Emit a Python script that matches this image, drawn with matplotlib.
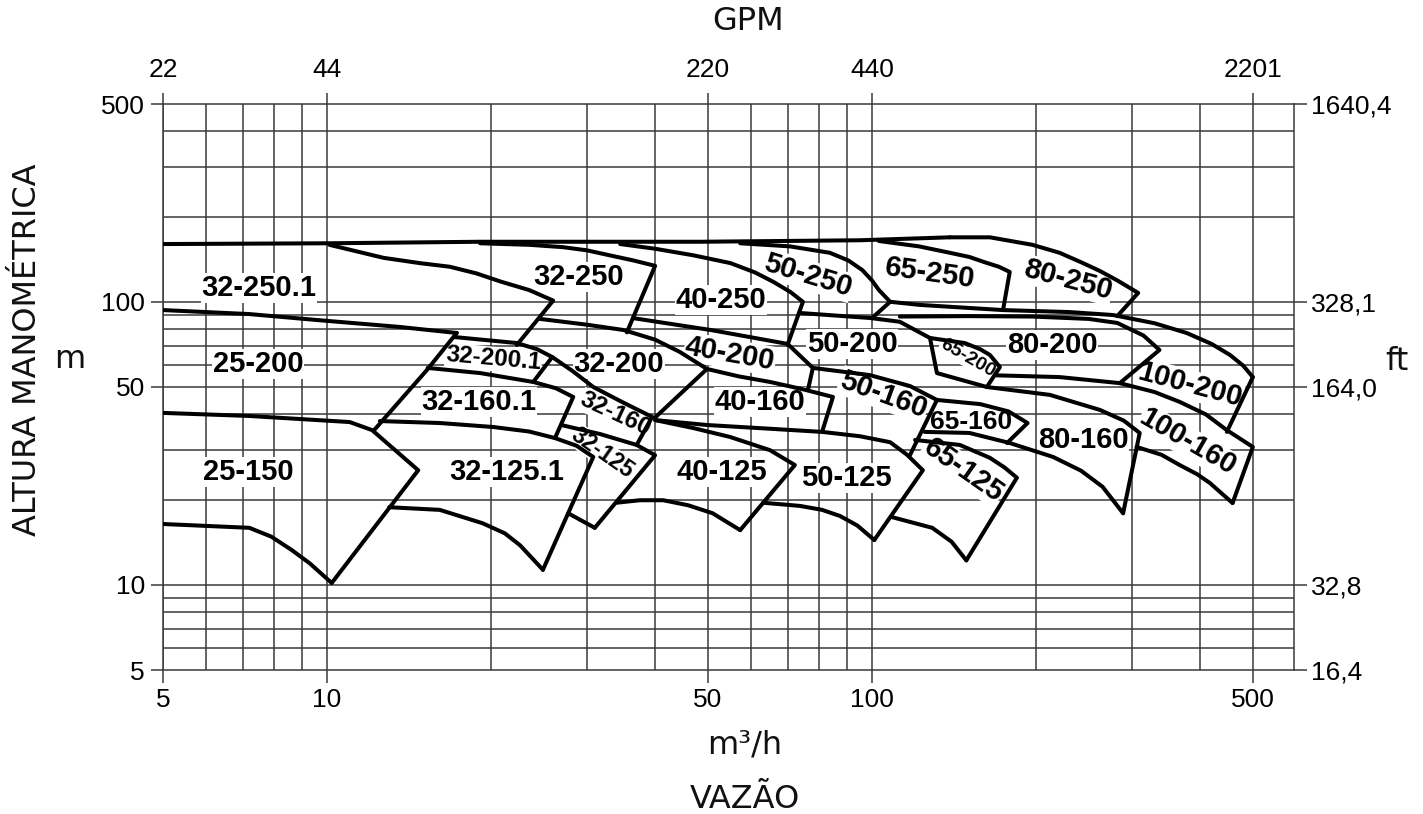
import matplotlib
matplotlib.use('Agg')
import matplotlib.pyplot as plt
from matplotlib.ticker import NullLocator

# outlines of the pump tiles, (flow m3/h, head m)
env_top = [(5, 160), (10.1, 161), (19.1, 163), (48.4, 163), (95, 165), (139, 169)]
top_80_250 = [(139, 169), (164.6, 169), (197, 159), (221, 149), (244, 137), (262, 128.5),
              (282, 119), (308, 107.5), (282, 89)]
top_32_250_1 = [(10.1, 159), (12.7, 143), (14.8, 137), (16.8, 133), (18.8, 126), (20.8, 118),
                (23.5, 110), (26, 101), (22.3, 70.4)]
top_32_250 = [(19.1, 161), (23.5, 159), (27.1, 156), (30, 152), (33, 146), (36.5, 140), (40, 134), (35.5, 78)]
top_40_250 = [(34.5, 160), (40, 154), (47, 146), (55, 137), (61, 127), (66, 117.5), (71, 108),
              (74.7, 100), (70, 70.4)]
top_50_250 = [(57.3, 161), (70.7, 157), (83.7, 149), (90.5, 140), (96, 129.5), (100, 119),
              (103, 110), (108, 100), (100, 87.6)]
top_65_250 = [(103, 164), (122, 157), (139, 149), (151, 144), (161, 138), (171, 133), (179, 127.5), (174, 93.5)]
bottom_80_250 = [(108, 100), (122.5, 97.5), (174, 93.5), (230, 92), (277, 89.8), (330, 84),
                 (378, 77.6), (420, 71), (454, 64.9), (480, 59.5), (500, 54.2)]
bottom_40_250 = [(36.4, 87.6), (50.6, 79.5), (70, 71), (77.9, 58.4), (76.3, 48.8)]

top_25_200 = [(5, 93.5), (7.2, 90.5), (9.6, 86.2), (13.6, 81.5), (17.3, 77.6)]
right_25_200 = [(17.3, 77.6), (15.25, 57.4), (12.2, 35.2)]
top_32_200_1 = [(17.1, 75.1), (22.3, 71.5), (24.3, 68), (25.9, 63.8), (23.9, 52.1)]
top_32_200 = [(24.6, 87), (30, 83), (35, 79.5), (40, 73.5), (44.4, 66.5), (49.8, 57.9), (57, 54.5),
              (65, 52.1), (75, 49), (84.8, 46.1), (81, 34.7)]
right_32_200 = [(49.8, 57.9), (40, 39)]
top_50_200 = [(73.8, 91.3), (99.6, 87.6), (112.5, 85), (127.8, 74.5), (148, 71.5), (158, 68),
              (164.6, 64.9), (171.7, 58.8), (162.5, 50)]
left_65_200 = [(127.8, 74.5), (131.6, 56), (162.5, 50)]
top_80_200 = [(112.5, 88.7), (150, 89), (197, 88.7), (250, 87), (282, 84.2), (315, 76), (337, 67.6), (285, 51.6)]
bottom_80_200 = [(168, 55), (221, 54.2), (285, 51.6)]
right_100_200 = [(500, 54.2), (448, 34.7)]

top_32_160_1 = [(15.3, 58.4), (19.1, 56.0), (23.9, 52.1), (26.3, 49.5), (28.3, 46.1), (26.2, 33.0)]
top_32_160 = [(25.9, 63.8), (28.2, 57), (30.8, 50), (35, 44), (39.5, 39.2), (37, 31.2)]
top_50_160 = [(77.9, 58.4), (99, 55.1), (117.4, 50.4), (131.6, 45), (117.4, 28.7)]
top_65_160 = [(131.6, 45), (158, 43.5), (178, 41), (193, 37.3), (177, 31.7)]
top_80_160 = [(162.5, 50), (212, 46.9), (262, 41.5), (290, 38), (310, 34.4), (289, 17.9)]
bottom_80_160 = [(125, 34.7), (151, 34.4), (179, 31.7), (215, 28.3), (242, 25.3), (265, 22.2), (289, 17.9)]
top_100_160 = [(285, 51.6), (330, 48), (367, 44.3), (410, 40), (448, 35.2), (500, 30.7), (459, 19.45)]
bottom_100_160 = [(306, 30.7), (340, 28.8), (367, 26.5), (395, 24.6), (417, 22.9), (459, 19.45)]

top_25_150 = [(5, 40.5), (7.2, 39.5), (11, 37.6), (12.1, 35.2), (14.7, 25.4), (10.2, 10.15)]
bottom_25_150 = [(5, 16.4), (7.2, 15.9), (7.9, 14.8), (8.6, 13.3), (9.3, 11.9), (10.2, 10.15)]
top_32_125_1 = [(12.5, 37.9), (16.1, 37.3), (20.2, 36.1), (23.5, 34.8), (26.2, 33.0), (28.7, 31),
                (30.8, 28.3), (24.9, 11.3)]
bottom_32_125_1 = [(13, 18.8), (16.1, 18.4), (19.3, 16.5), (21.2, 15.2), (22.6, 13.8), (24.9, 11.3)]
top_32_125 = [(26.9, 36.7), (31.7, 34.1), (37, 31.2), (40, 28.7), (31, 15.9)]
bottom_32_125 = [(27.7, 17.9), (31, 15.9)]
top_40_125 = [(40, 38.2), (47, 35.8), (54.9, 33.3), (65, 29.9), (72.2, 26.5), (57.3, 15.6)]
bottom_40_125 = [(34, 19.5), (37.5, 19.9), (41.4, 19.9), (46, 19.1), (51, 17.9), (57.3, 15.6)]
top_50_125 = [(40, 38.2), (49.8, 36.7), (65, 35.6), (81, 34.7), (95, 33.5), (108, 31.9), (116, 28.8),
              (124, 25.4), (101, 14.4)]
bottom_50_125 = [(63.1, 19.5), (73.8, 19.0), (81, 18.4), (87.4, 17.5), (94, 16.2), (101, 14.4)]
top_65_125 = [(120, 32.5), (145, 31.2), (164.6, 28.1), (175, 26), (184.5, 23.9), (149, 12.2)]
bottom_65_125 = [(108.8, 17.35), (129, 15.9), (140, 14.2), (149, 12.2)]

# model labels: name, flow, head, rotation, size
label_names = ['32-250.1', '32-250', '40-250', '50-250', '65-250', '80-250',
               '25-200', '32-200.1', '32-200', '40-200', '50-200', '65-200', '80-200', '100-200',
               '32-160.1', '32-160', '40-160', '50-160', '65-160', '80-160', '100-160',
               '25-150', '32-125.1', '32-125', '40-125', '50-125', '65-125']
label_q = [7.5, 28.9, 52.8, 76.3, 128, 229,
           7.47, 20.2, 34.3, 54.9, 91.9, 150, 214, 383,
           19.0, 33.8, 62.3, 105, 152, 244, 380,
           7.16, 21.4, 32.0, 53.0, 89.6, 147]
label_h = [112, 122, 101.5, 124, 126.4, 119.4,
           60.3, 62.8, 60.3, 65.4, 71, 63.3, 70.4, 50.8,
           44.3, 40.1, 44.3, 46.9, 37.6, 32.5, 31.9,
           25.0, 25.0, 29.2, 25.0, 23.9, 25.4]
label_rot = [0, 0, 0, -17, -8, -15,
             0, -5, 0, -10, 0, -30, 0, -15,
             0, -25, 0, -20, 0, 0, -30,
             0, 0, -35, 0, 0, -35]
label_size = [21, 21, 21, 21, 21, 21,
              21, 17.5, 21, 21, 21, 14, 21, 21,
              21, 17.5, 21, 21, 19, 21, 21,
              21, 21, 16.5, 21, 21, 21]

m_ticks = [5, 10, 50, 100, 500]
ft_labels = ['16,4', '32,8', '164,0', '328,1', '1640,4']
gpm_labels = ['22', '44', '220', '440', '2201']
x_grid = [5, 6, 7, 8, 9, 10, 20, 30, 40, 50, 60, 70, 80, 90, 100, 200, 300, 400, 500]
y_grid = [6, 7, 8, 9, 10, 20, 30, 40, 50, 60, 70, 80, 90, 100, 200, 300, 400]

outlines = [env_top, top_80_250, top_32_250_1, top_32_250, top_40_250, top_50_250, top_65_250,
            bottom_80_250, bottom_40_250, top_25_200, right_25_200, top_32_200_1, top_32_200,
            right_32_200, top_50_200, left_65_200, top_80_200, bottom_80_200,
            right_100_200, top_32_160_1, top_32_160, top_50_160, top_65_160, top_80_160,
            bottom_80_160, top_100_160, bottom_100_160, top_25_150, bottom_25_150,
            top_32_125_1, bottom_32_125_1, top_32_125, bottom_32_125, top_40_125,
            bottom_40_125, top_50_125, bottom_50_125, top_65_125, bottom_65_125]

W, H = 1423, 814
fig = plt.figure(figsize=(W / 100, H / 100), dpi=100)
ax = fig.add_axes([163 / W, 1 - 670 / H, (1294 - 163) / W, (670 - 104) / H])
ax.set_xscale('log')
ax.set_yscale('log')
ax.set_xlim(5, 595)
ax.set_ylim(5, 500)

gridc = '#3a3a3a'
for xv in x_grid:
    ax.axvline(xv, color=gridc, lw=1.1, zorder=1)
for yv in y_grid:
    ax.axhline(yv, color=gridc, lw=1.1, zorder=1)
for s in ax.spines.values():
    s.set_color(gridc)
    s.set_linewidth(1.1)

for line in outlines:
    q = [p[0] for p in line]
    h = [p[1] for p in line]
    ax.plot(q, h, color='black', lw=2.9, solid_joinstyle='round', solid_capstyle='round', zorder=4)

for name, q, h, r, fs in zip(label_names, label_q, label_h, label_rot, label_size):
    ax.text(q, h, name, ha='center', va='center', rotation=r, fontsize=fs,
            fontfamily='Liberation Sans', fontweight='bold', zorder=3,
            bbox=dict(facecolor='white', edgecolor='none', pad=0.6))

tickfont = dict(fontfamily='Liberation Sans', fontsize=19)
ax.xaxis.set_minor_locator(NullLocator())
ax.set_xticks(m_ticks)
ax.set_xticklabels([str(v) for v in m_ticks], **tickfont)
ax.yaxis.set_minor_locator(NullLocator())
ax.set_yticks(m_ticks)
ax.set_yticklabels([str(v) for v in m_ticks], **tickfont)
ax.tick_params(axis='both', which='major', length=9, width=1.1, color=gridc, direction='out', pad=4)

axr = ax.twinx()
axr.set_yscale('log')
axr.set_ylim(5, 500)
axr.yaxis.set_minor_locator(NullLocator())
axr.set_yticks(m_ticks)
axr.set_yticklabels(ft_labels, **tickfont)
axr.tick_params(axis='y', length=9, width=1.1, color=gridc, pad=3)
axr.set_frame_on(False)

axt = ax.twiny()
axt.set_xscale('log')
axt.set_xlim(5, 595)
axt.xaxis.set_minor_locator(NullLocator())
axt.set_xticks(m_ticks)
axt.set_xticklabels(gpm_labels, **tickfont)
axt.tick_params(axis='x', length=8, width=1.1, color=gridc, pad=8)
axt.set_frame_on(False)

titlefont = dict(fontfamily='DejaVu Sans', fontsize=23, color='#111111')
fig.text(748 / W, 1 - 22 / H, 'GPM', ha='center', va='center', **titlefont)
fig.text(745 / W, 1 - 745 / H, 'm³/h', ha='center', va='center', **titlefont)
fig.text(745 / W, 1 - 800 / H, 'VAZÃO', ha='center', va='center', **titlefont)
fig.text(28 / W, 1 - 350 / H, 'ALTURA MANOMÉTRICA', ha='center', va='center', rotation=90, **titlefont)
fig.text(70 / W, 1 - 360 / H, 'm', ha='center', va='center', **titlefont)
fig.text(1397 / W, 1 - 362 / H, 'ft', ha='center', va='center', **titlefont)

fig.savefig('out.png', dpi=100)
